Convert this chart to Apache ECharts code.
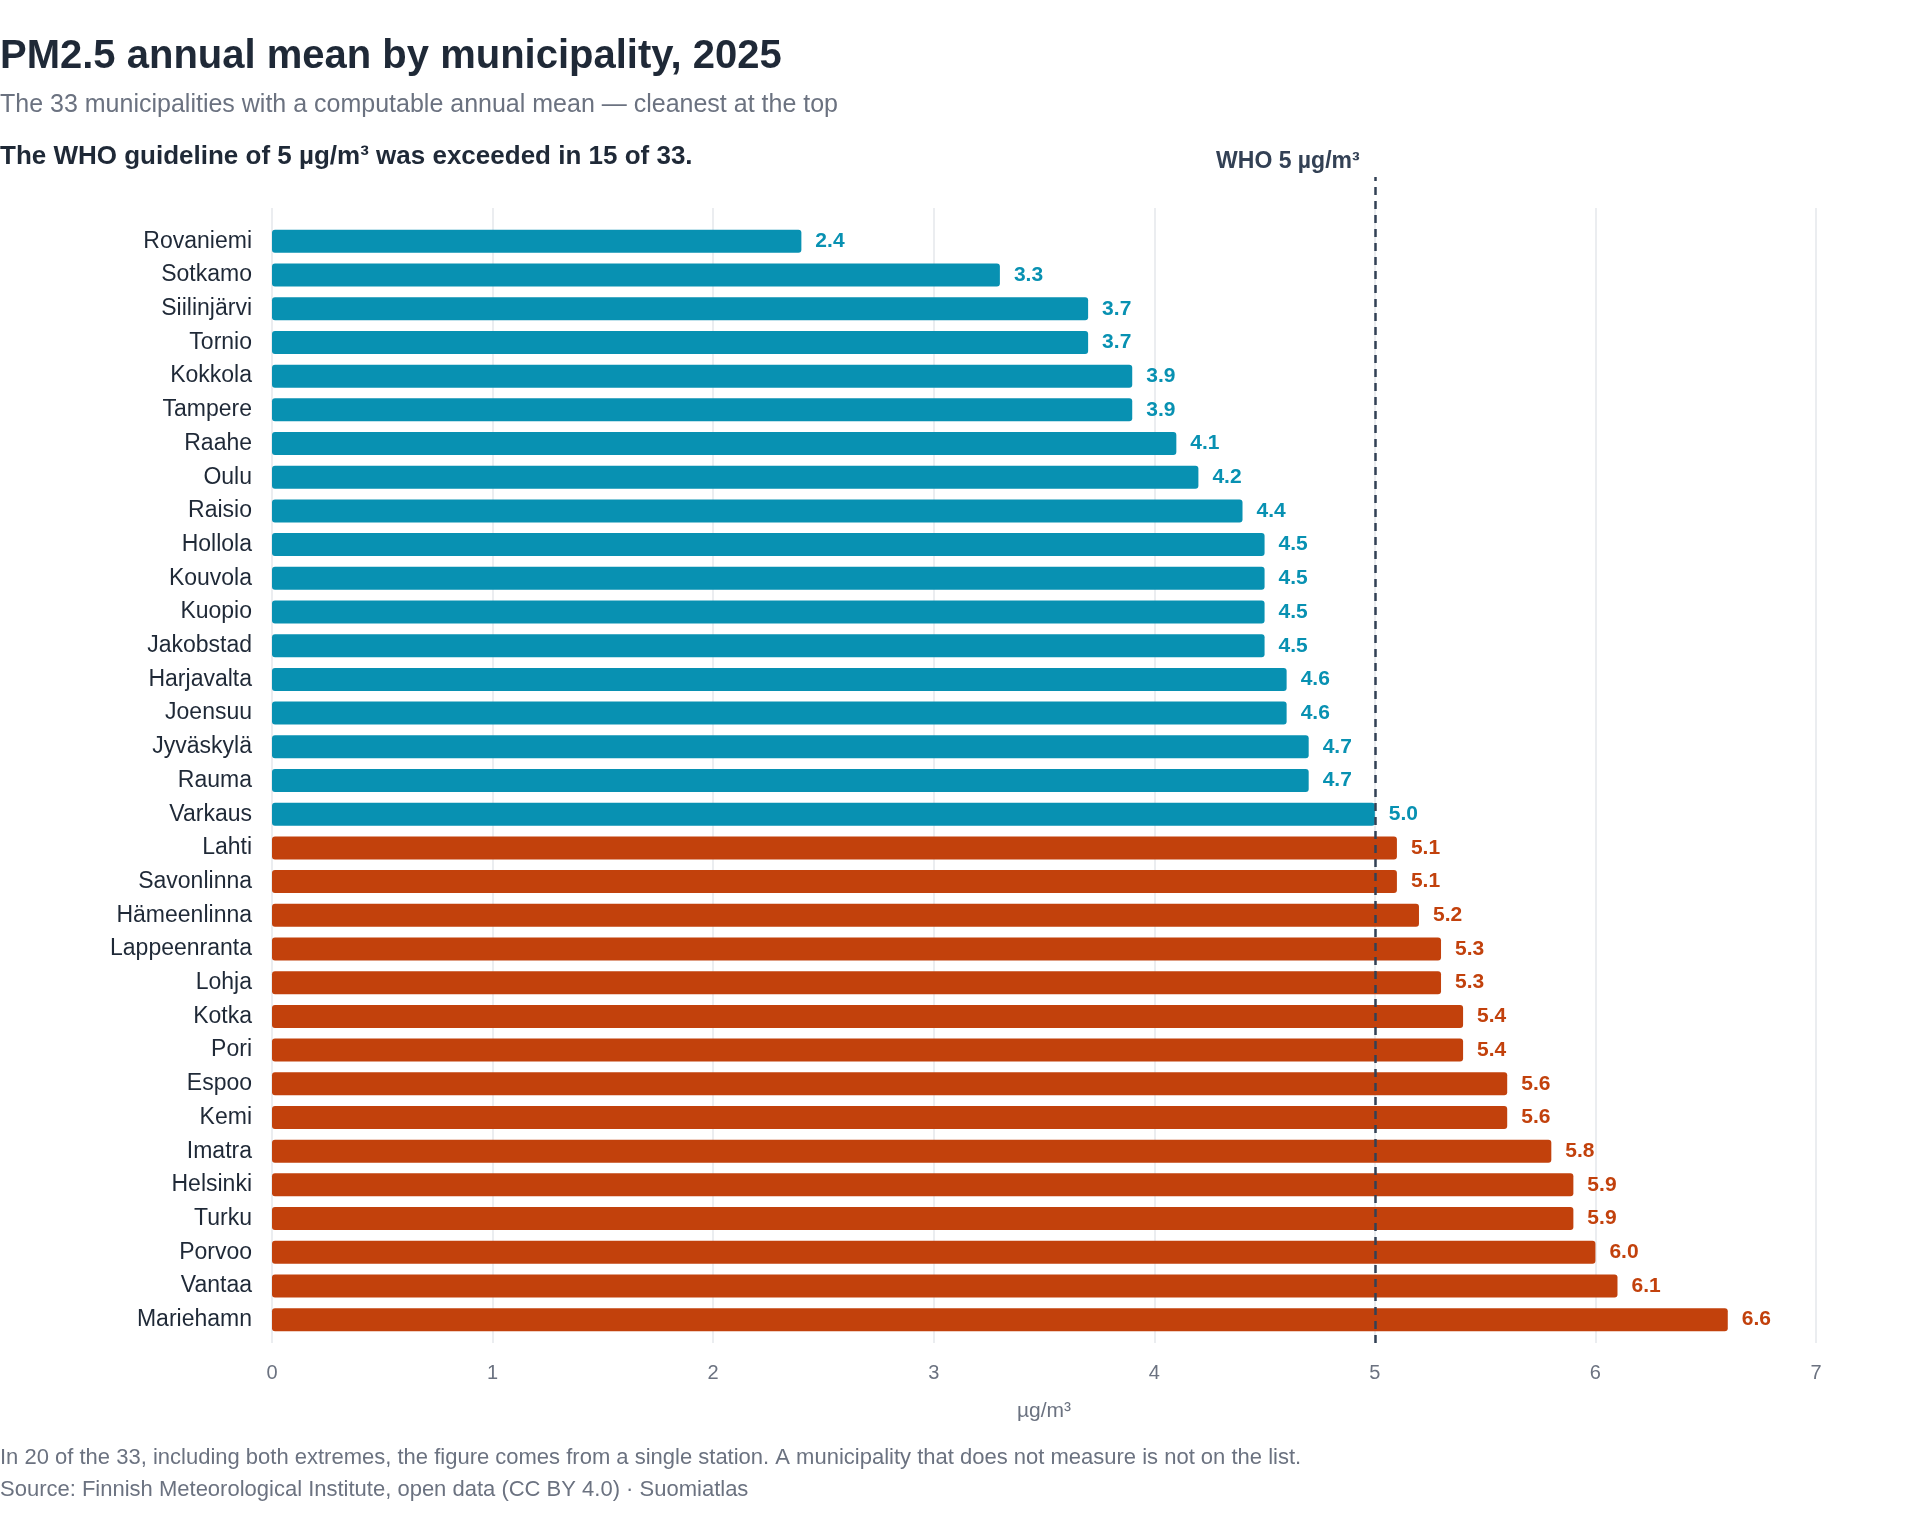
<!DOCTYPE html>
<html>
<head>
<meta charset="utf-8">
<style>
html,body{margin:0;padding:0;background:#fff;}
#chart{width:1920px;height:1516px;}
</style>
<script src="https://cdn.jsdelivr.net/npm/echarts@6/dist/echarts.min.js"></script>
</head>
<body>
<div id="chart"></div>
<script>
// ---- data ----
const municipalities = ["Rovaniemi","Sotkamo","Siilinjärvi","Tornio","Kokkola","Tampere","Raahe","Oulu","Raisio","Hollola","Kouvola","Kuopio","Jakobstad","Harjavalta","Joensuu","Jyväskylä","Rauma","Varkaus","Lahti","Savonlinna","Hämeenlinna","Lappeenranta","Lohja","Kotka","Pori","Espoo","Kemi","Imatra","Helsinki","Turku","Porvoo","Vantaa","Mariehamn"];
const pm25 = [2.4,3.3,3.7,3.7,3.9,3.9,4.1,4.2,4.4,4.5,4.5,4.5,4.5,4.6,4.6,4.7,4.7,5.0,5.1,5.1,5.2,5.3,5.3,5.4,5.4,5.6,5.6,5.8,5.9,5.9,6.0,6.1,6.6];
const whoGuideline = 5;
const xTicks = [0,1,2,3,4,5,6,7];

const COL_OK = '#0891b2';
const COL_OVER = '#c2410c';
const FONT = '"Liberation Sans", Arial, Helvetica, sans-serif';

const barData = pm25.map(v => {
  const c = v > whoGuideline ? COL_OVER : COL_OK;
  return { value: v, itemStyle: { color: c }, label: { color: c } };
});

const chart = echarts.init(document.getElementById('chart'), null, { renderer: 'canvas' });
const L = 272, R = 104;
chart.setOption({
  backgroundColor: '#ffffff',
  animation: false,
  textStyle: { fontFamily: FONT },
  title: [
    { text: 'PM2.5 annual mean by municipality, 2025', left: 0, top: 36.5, padding: 0,
      textStyle: { fontFamily: FONT, fontSize: 40, fontWeight: 'bold', color: '#1f2937', lineHeight: 40 } },
    { text: 'The 33 municipalities with a computable annual mean — cleanest at the top', left: 0, top: 92.5, padding: 0,
      textStyle: { fontFamily: FONT, fontSize: 25, fontWeight: 'normal', color: '#6b7280', lineHeight: 25 } },
    { text: 'The WHO guideline of 5 µg/m³ was exceeded in 15 of 33.', left: 0, top: 144, padding: 0,
      textStyle: { fontFamily: FONT, fontSize: 26, fontWeight: 'bold', color: '#1f2937', lineHeight: 26 } },
    { text: 'In 20 of the 33, including both extremes, the figure comes from a single station. A municipality that does not measure is not on the list.', left: 0, top: 1447, padding: 0,
      textStyle: { fontFamily: FONT, fontSize: 22, fontWeight: 'normal', color: '#6b7280', lineHeight: 22 } },
    { text: 'Source: Finnish Meteorological Institute, open data (CC BY 4.0) · Suomiatlas', left: 0, top: 1479, padding: 0,
      textStyle: { fontFamily: FONT, fontSize: 22, fontWeight: 'normal', color: '#6b7280', lineHeight: 22 } }
  ],
  grid: [
    { left: L, right: R, top: 224.5, bottom: 179.5, containLabel: false },
    { left: L, right: R, top: 208, bottom: 173, containLabel: false },
    { left: L, right: R, top: 177, bottom: 173, containLabel: false }
  ],
  xAxis: [
    { gridIndex: 0, type: 'value', min: 0, max: 7, interval: 1, show: false, splitLine: { show: false } },
    { gridIndex: 1, type: 'value', min: xTicks[0], max: xTicks[xTicks.length - 1], interval: 1,
      axisLine: { show: false }, axisTick: { show: false },
      axisLabel: { fontFamily: FONT, fontSize: 20, color: '#6b7280', margin: 20 },
      splitLine: { show: true, lineStyle: { color: '#e5e7eb', width: 1.5 } },
      name: 'µg/m³', nameLocation: 'middle', nameGap: 58,
      nameTextStyle: { fontFamily: FONT, fontSize: 21, color: '#6b7280' } },
    { gridIndex: 2, type: 'value', min: 0, max: 7, interval: 1, show: false, splitLine: { show: false } }
  ],
  yAxis: [
    { gridIndex: 0, type: 'category', data: municipalities, inverse: true,
      axisLine: { show: false }, axisTick: { show: false }, splitLine: { show: false },
      axisLabel: { fontFamily: FONT, fontSize: 23, color: '#1f2937', margin: 20 } },
    { gridIndex: 1, type: 'value', min: 0, max: 1, show: false, splitLine: { show: false } },
    { gridIndex: 2, type: 'value', min: 0, max: 1, show: false, splitLine: { show: false } }
  ],
  series: [
    { type: 'bar', xAxisIndex: 0, yAxisIndex: 0, data: barData, barWidth: 23, z: 3,
      itemStyle: { borderRadius: 3 },
      label: { show: true, position: 'right', distance: 14, fontFamily: FONT, fontSize: 21, fontWeight: 'bold',
        formatter: p => p.value.toFixed(1) } },
    { type: 'line', xAxisIndex: 2, yAxisIndex: 2, data: [], z: 10,
      markLine: { silent: true, symbol: 'none', z: 10,
        lineStyle: { color: '#334155', width: 2.5, type: [8, 6] },
        label: { show: true, position: 'end', formatter: 'WHO 5 µg/m³', distance: 4, offset: [-87, 0],
          fontFamily: FONT, fontSize: 23, fontWeight: 'bold', color: '#334155' },
        data: [{ xAxis: whoGuideline }] } }
  ]
});
</script>
</body>
</html>
